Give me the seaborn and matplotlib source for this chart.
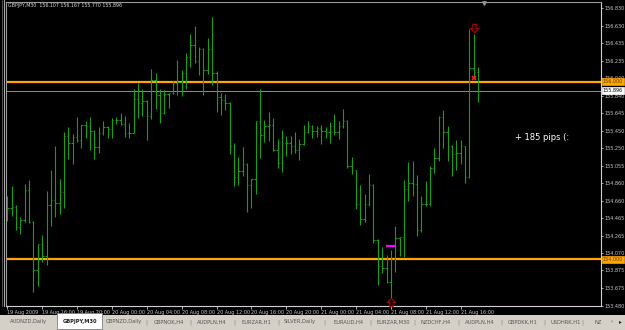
import numpy as np
import pandas as pd
import matplotlib
matplotlib.use("Agg")
import matplotlib.pyplot as plt
from matplotlib.patches import Rectangle
from matplotlib.path import Path
import seaborn as sns

sns.set_theme(style="dark")
plt.rcParams['font.family'] = ['DejaVu Sans']

# ---------------- data (GBPJPY M30, 19 Aug 12:00 -> 21 Aug 18:00) ----------------
opens = [154.578, 154.575, 154.590, 154.361, 154.447, 154.781, 154.417, 153.885, 154.174, 154.034,
         154.612, 154.668, 154.635, 154.754, 155.391, 155.309, 155.377, 155.338, 155.510, 155.505,
         155.447, 155.268, 155.421, 155.489, 155.470, 155.571, 155.568, 155.526, 155.421, 155.425,
         155.807, 155.759, 155.785, 155.619, 156.021, 155.849, 155.646, 155.863, 155.871, 155.984,
         155.995, 156.103, 156.283, 156.414, 156.238, 156.369, 156.133, 156.366, 156.103, 155.826,
         155.796, 155.759, 155.271, 154.927, 154.998, 155.073, 154.840, 154.900, 155.552, 155.402,
         155.504, 155.515, 155.226, 155.084, 155.309, 155.305, 155.271, 155.226, 155.301, 155.433,
         155.496, 155.440, 155.478, 155.440, 155.436, 155.504, 155.428, 155.496, 155.552, 155.046,
         155.001, 154.627, 154.455, 154.627, 154.840, 154.222, 153.922, 153.904, 153.742, 154.005,
         154.241, 154.250, 154.792, 154.860, 154.852, 154.335, 154.627, 154.620, 155.028, 155.141,
         155.601, 155.428, 155.271, 155.189, 155.197, 155.271, 154.927, 156.152, 156.107]
highs = [154.709, 154.829, 154.616, 154.477, 154.852, 154.889, 154.428, 154.177, 154.278, 154.773,
         155.001, 155.271, 154.904, 155.433, 155.492, 155.414, 155.597, 155.515, 155.560, 155.601,
         155.451, 155.485, 155.552, 155.504, 155.594, 155.601, 155.646, 155.608, 155.534, 155.916,
         155.990, 155.920, 155.790, 156.141, 156.096, 155.916, 155.908, 155.878, 156.009, 156.246,
         156.133, 156.328, 156.538, 156.628, 156.388, 156.377, 156.489, 156.725, 156.122, 155.878,
         155.863, 155.766, 155.309, 155.147, 155.260, 155.084, 154.904, 155.560, 155.920, 155.563,
         155.664, 155.590, 155.354, 155.459, 155.391, 155.383, 155.433, 155.354, 155.515, 155.552,
         155.515, 155.504, 155.515, 155.485, 155.541, 155.639, 155.552, 155.691, 155.571, 155.152,
         155.005, 154.840, 154.739, 154.964, 154.852, 154.230, 154.140, 154.054, 154.110, 154.380,
         154.253, 154.897, 155.091, 155.102, 154.953, 154.717, 154.877, 155.046, 155.253, 155.608,
         155.683, 155.504, 155.290, 155.338, 155.338, 155.275, 156.591, 156.534, 156.167]
lows = [154.428, 154.492, 154.335, 154.286, 154.421, 154.410, 153.630, 153.697, 153.967, 153.933,
        154.372, 154.473, 154.514, 154.574, 155.129, 155.076, 155.316, 155.253, 155.369, 155.226,
        155.133, 155.192, 155.402, 155.361, 155.361, 155.523, 155.515, 155.377, 155.365, 155.421,
        155.590, 155.608, 155.338, 155.579, 155.695, 155.534, 155.640, 155.709, 155.860, 155.852,
        155.844, 155.916, 156.163, 156.208, 156.077, 155.852, 156.085, 155.965, 155.658, 155.627,
        155.683, 155.189, 154.821, 154.833, 154.934, 154.534, 154.578, 154.736, 155.141, 155.316,
        155.327, 155.215, 155.028, 154.979, 155.159, 155.189, 155.197, 155.121, 155.282, 155.422,
        155.365, 155.377, 155.301, 155.365, 155.309, 155.402, 155.354, 155.478, 155.028, 154.964,
        154.567, 154.391, 154.417, 154.596, 154.185, 153.716, 153.848, 153.735, 153.567, 153.855,
        154.034, 154.028, 154.653, 154.709, 154.267, 154.304, 154.596, 154.596, 154.972, 155.102,
        155.253, 155.110, 154.934, 155.001, 155.076, 154.860, 154.920, 156.058, 155.770]
closes = [154.575, 154.590, 154.361, 154.447, 154.781, 154.417, 153.885, 154.174, 154.034, 154.612,
          154.668, 154.635, 154.754, 155.391, 155.309, 155.377, 155.338, 155.510, 155.505, 155.447,
          155.268, 155.421, 155.489, 155.470, 155.571, 155.568, 155.526, 155.421, 155.425, 155.807,
          155.759, 155.785, 155.619, 156.021, 155.849, 155.646, 155.863, 155.871, 155.984, 155.995,
          156.103, 156.283, 156.414, 156.238, 156.369, 156.133, 156.366, 156.103, 155.826, 155.796,
          155.759, 155.271, 154.927, 154.998, 155.073, 154.840, 154.900, 155.552, 155.402, 155.504,
          155.515, 155.226, 155.084, 155.309, 155.305, 155.271, 155.226, 155.301, 155.433, 155.496,
          155.440, 155.478, 155.440, 155.436, 155.504, 155.428, 155.496, 155.552, 155.046, 155.001,
          154.627, 154.455, 154.627, 154.840, 154.222, 153.922, 153.904, 153.742, 154.005, 154.241,
          154.250, 154.792, 154.860, 154.852, 154.335, 154.627, 154.620, 155.028, 155.141, 155.601,
          155.428, 155.271, 155.189, 155.197, 155.271, 154.927, 156.152, 156.107, 155.896]

date_labels = ["19 Aug 2009", "19 Aug 16:00", "19 Aug 20:00", "20 Aug 00:00", "20 Aug 04:00",
               "20 Aug 08:00", "20 Aug 12:00", "20 Aug 16:00", "20 Aug 20:00", "21 Aug 00:00",
               "21 Aug 04:00", "21 Aug 08:00", "21 Aug 12:00", "21 Aug 16:00"]
date_label_bars = [0, 8, 16, 24, 32, 40, 48, 56, 64, 72, 80, 88, 96, 104]
price_ticks = [156.830, 156.630, 156.435, 156.235, 156.040, 155.840, 155.645, 155.450, 155.250,
               155.055, 154.860, 154.660, 154.465, 154.265, 154.070, 153.875, 153.675, 153.480]
level_high = 156.000
level_low = 154.000
bid_price = 155.896
entry_level = 154.155
entry_bars = [87, 89]
sell_bar, sell_price = 107, 156.605
buy_bar, buy_price = 88, 153.525
exit_bar, exit_price = 107, 156.040
pips_text = "+ 185 pips (:"
header_text = "GBPJPY,M30  156.107 156.167 155.770 155.896"
tabs = ["AUDNZD,Daily", "GBPJPY,M30", "GBPNZD,Daily", "GBPNOK,H4", "AUDPLN,H4", "EURZAR,H1",
        "SILVER,Daily", "EURAUD,H4", "EURZAR,M30", "NZDCHF,H4", "AUDPLN,H4", "GBPDKK,H1",
        "USDHRK,H1", "NZ"]
tab_centers = [28, 80, 124, 169, 212, 256, 300, 348, 393, 436, 480, 523, 566, 598]
active_tab = 1

df = pd.DataFrame({"open": opens, "high": highs, "low": lows, "close": closes})
df["i"] = np.arange(len(df))

# ---------------- figure ----------------
W, H = 625, 330
fig = plt.figure(figsize=(W / 100, H / 100), dpi=100, facecolor="black")
L, R, T, B = 6, 601, 2, 305.5
ax = fig.add_axes([L / W, 1 - B / H, (R - L) / W, (B - T) / H])
ax.set_facecolor("black")

bar_col = "#16a016"
ax.vlines(df["i"], df["low"], df["high"], color=bar_col, lw=0.8)
tw = 0.32
ax.hlines(df["open"], df["i"] - tw, df["i"], color=bar_col, lw=0.8)
ax.hlines(df["close"], df["i"], df["i"] + tw, color=bar_col, lw=0.8)

ax.axhline(level_high, color="#ffa500", lw=1.6, zorder=1)
ax.axhline(level_low, color="#ffa500", lw=1.6, zorder=1)
ax.axhline(bid_price, color="#8c8c8c", lw=0.7, zorder=1)
ax.hlines(entry_level, entry_bars[0] - 0.1, entry_bars[1] + 0.1, color="#ff00ff", lw=1.6, zorder=3)

down_arrow = Path([(-0.2, 0.5), (0.2, 0.5), (0.2, 0.0), (0.5, 0.0), (0.0, -0.5), (-0.5, 0.0),
                   (-0.2, 0.0), (-0.2, 0.5)], closed=True)
up_arrow = Path([(x, -y) for x, y in down_arrow.vertices], closed=True)
ax.plot([sell_bar], [sell_price], marker=down_arrow, ms=6, mfc="none", mec="#b00000", mew=0.8,
        zorder=4)
ax.plot([buy_bar], [buy_price], marker=up_arrow, ms=6, mfc="none", mec="#b00000", mew=0.8,
        zorder=4, clip_on=False)
ax.plot([exit_bar], [exit_price], marker="x", color="#ff2020", ms=3, mew=1.2, zorder=4)
ax.plot([109.4], [156.885], marker="v", color="#909090", ms=2.5, zorder=4, clip_on=False)

ax.text(116.5, 155.370, pips_text, color="white", fontsize=6, ha="left", va="center")

ax.set_xlim(-0.298, 136.2)
ax.set_ylim(153.486, 156.897)

# axes styling
for s in ["top", "left"]:
    ax.spines[s].set_color("#9a9a9a")
    ax.spines[s].set_linewidth(0.8)
for s in ["right", "bottom"]:
    ax.spines[s].set_color("#d0d0d0")
    ax.spines[s].set_linewidth(0.8)
ax.grid(False)

ax.yaxis.tick_right()
ax.set_yticks(price_ticks)
ax.set_yticklabels([f"{p:.3f}" for p in price_ticks])
ax.tick_params(axis="y", colors="#c8c8c8", labelsize=3.5, length=1.5, width=0.6, pad=0.8,
               right=True, left=False, direction="out")
ax.set_xticks(date_label_bars)
ax.set_xticklabels(date_labels)
ax.tick_params(axis="x", colors="#c8c8c8", labelsize=3.5, length=2, width=0.6, pad=1.5,
               bottom=True, direction="out")
for lab in ax.get_xticklabels():
    lab.set_horizontalalignment("left")

# price boxes on right axis
def price_box(val, fc, tc):
    ax.annotate(f"{val:.3f}", xy=(1.0, val), xycoords=("axes fraction", "data"),
                xytext=(1.2, 0), textcoords="offset points", fontsize=3.5, color=tc,
                ha="left", va="center", zorder=6, annotation_clip=False,
                bbox=dict(boxstyle="square,pad=0.2", fc=fc, ec=fc, lw=0.5))

price_box(level_high, "#ffa500", "#5a3a00")
price_box(level_low, "#ffa500", "#5a3a00")
price_box(bid_price, "white", "black")

# left window border
fig.add_artist(plt.Line2D([4 / W, 4 / W], [1 - 306 / H, 1], color="#a8a8a8", lw=0.8))
fig.add_artist(plt.Line2D([2 / W, 2 / W], [1 - 306 / H, 1], color="#606060", lw=0.6))

# header
fig.text(8 / W, 1 - 6 / H, header_text, color="#d8d8d8", fontsize=3.4, ha="left", va="center")

# tab strip
fig.add_artist(Rectangle((0, 0), 1, 15 / H, transform=fig.transFigure, fc="#d4d0c8", ec="none"))
fig.add_artist(Rectangle((57 / W, 1 - 329 / H), 45 / W, 16 / H, transform=fig.transFigure,
                         fc="white", ec="#808080", lw=0.6))
for k, (name, cx) in enumerate(zip(tabs, tab_centers)):
    fig.text(cx / W, 1 - 322 / H, name, fontsize=3.7,
             color="#202020" if k == active_tab else "#555555",
             fontweight="bold" if k == active_tab else "normal", ha="center", va="center")
    if k >= 3:
        sx = (tab_centers[k - 1] + cx) / 2
        fig.text(sx / W, 1 - 322 / H, "|", fontsize=4, color="#808080", ha="center", va="center")
fig.text(612 / W, 1 - 322 / H, "‹", fontsize=4, color="#404040", ha="center", va="center")
fig.text(620 / W, 1 - 322 / H, "▸", fontsize=4, color="#202020", ha="center", va="center")

fig.savefig("out.png", dpi=100, facecolor="black")
